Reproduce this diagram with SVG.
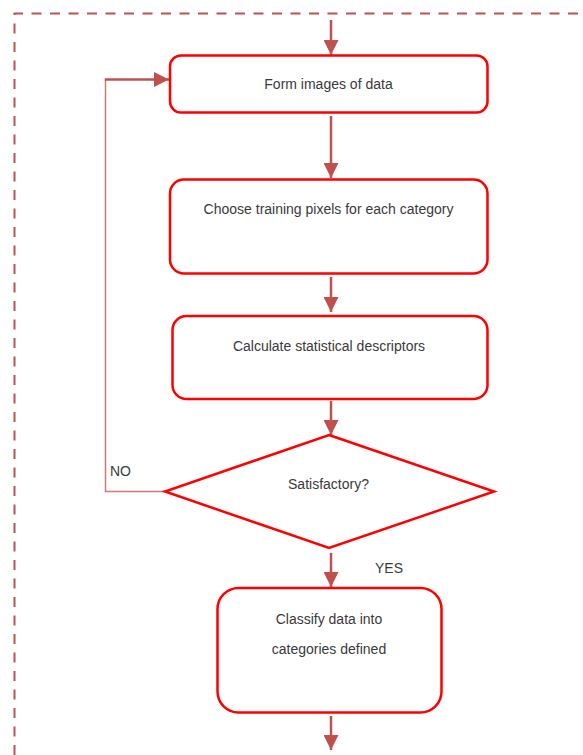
<svg xmlns="http://www.w3.org/2000/svg" width="583" height="755" viewBox="0 0 583 755">
<style>
.box{fill:#fff;stroke:#ff0000;stroke-width:2.5}
.arr{fill:none;stroke:#c0504d;stroke-width:2.5}
.lbl{font-family:"Liberation Sans",Arial,sans-serif;font-size:14px;fill:#3a3a3a;text-anchor:middle;dominant-baseline:central}
.lbl2{font-family:"Liberation Sans",Arial,sans-serif;font-size:14px;fill:#3a3a3a;dominant-baseline:central}
</style>
<defs>
<marker id="ah" markerWidth="15" markerHeight="15" viewBox="0 0 15 15" refX="15" refY="7.5" orient="auto" markerUnits="userSpaceOnUse">
<path d="M0,0 L15,7.5 L0,15 Z" fill="#c0504d"/>
</marker>
</defs>
<rect width="583" height="755" fill="#fff"/>
<path d="M14.5,755 L14.5,13.5 L590,13.5" fill="none" stroke="#c0504d" stroke-width="2" stroke-dasharray="10,8.5" id="frame"/>
<g id="connectors">
<line class="arr" x1="331" y1="20" x2="331" y2="55" marker-end="url(#ah)"/>
<line class="arr" x1="331" y1="116" x2="331" y2="178" marker-end="url(#ah)"/>
<line class="arr" x1="331" y1="277" x2="331" y2="312" marker-end="url(#ah)"/>
<line class="arr" x1="331" y1="401" x2="331" y2="435" marker-end="url(#ah)"/>
<line class="arr" x1="331" y1="553" x2="331" y2="587" marker-end="url(#ah)"/>
<line class="arr" x1="331" y1="716" x2="331" y2="750" marker-end="url(#ah)"/>
<path d="M165,491.5 L105.5,491.5 L105.5,79.5" fill="none" stroke="#d47875" stroke-width="1.5"/>
<line class="arr" x1="104.8" y1="79.5" x2="169" y2="79.5" marker-end="url(#ah)"/>
<text class="lbl2" x="110" y="470.5">NO</text>
<text class="lbl2" x="375" y="567.5">YES</text>
</g>
<g id="form">
<rect class="box" x="170" y="55.5" width="317.5" height="57" rx="11"/>
<text class="lbl" x="328.5" y="83.5">Form images of data</text>
</g>
<g id="choose">
<rect class="box" x="170" y="179.5" width="317.5" height="94" rx="14"/>
<text class="lbl" x="328.5" y="208.5">Choose training pixels for each category</text>
</g>
<g id="calc">
<rect class="box" x="172.5" y="316" width="315" height="83" rx="14"/>
<text class="lbl" x="329" y="345.5">Calculate statistical descriptors</text>
</g>
<g id="satisfactory">
<polygon class="box" points="329,435 494,491.5 329,548 165,491.5"/>
<text class="lbl" x="328.5" y="483.5">Satisfactory?</text>
</g>
<g id="classify">
<rect class="box" x="217.5" y="588" width="224" height="124.5" rx="21"/>
<text class="lbl" x="329" y="619">Classify data into</text>
<text class="lbl" x="329" y="648.5">categories defined</text>
</g>
</svg>
